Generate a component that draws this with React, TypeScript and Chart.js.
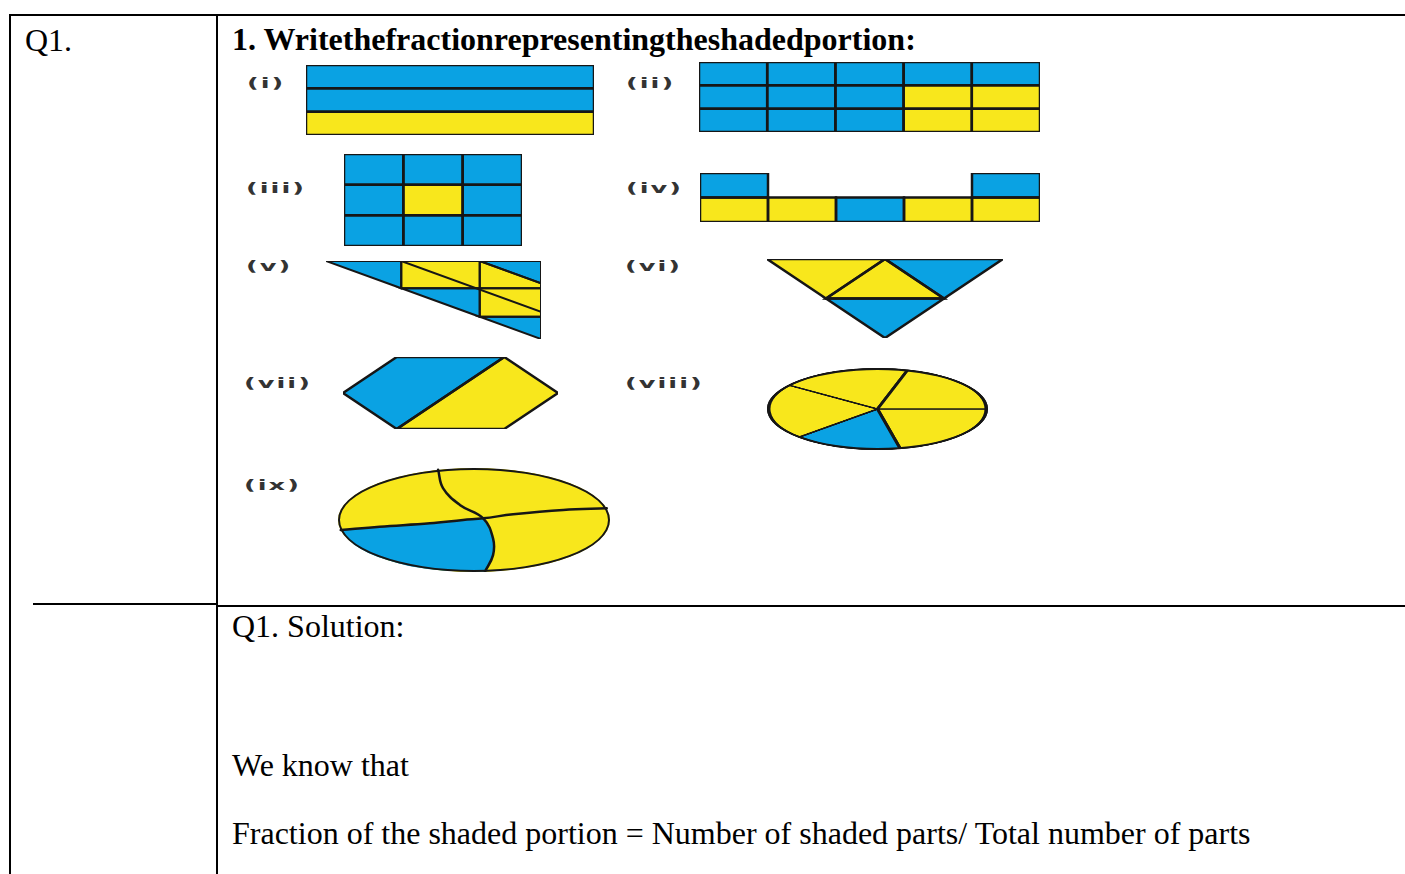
import React, { useEffect, useRef } from "react";
import { Chart, registerables } from "chart.js";

Chart.register(...registerables);

type Pt = [number, number];
type Piece = { fill: string; pts: Pt[] };
type Box = { left: number; top: number; width: number; height: number };

// ------------------------------------------------------------------
// DATA (shape content in each figure's own units; "B" = blue, "Y" = yellow)
// ------------------------------------------------------------------
const titleText = "1. Writethefractionrepresentingtheshadedportion:";
const questionLabel = "Q1.";
const solutionLines = [
  "Q1. Solution:",
  "We know that",
  "Fraction of the shaded portion = Number of shaded parts/ Total number of parts",
];
const figLabels = ["(i)", "(ii)", "(iii)", "(iv)", "(v)", "(vi)", "(vii)", "(viii)", "(ix)"];

// (i) 1 column x 3 rows
const fig1Grid: (string | null)[][] = [["B"], ["B"], ["Y"]];
// (ii) 5 columns x 3 rows
const fig2Grid: (string | null)[][] = [
  ["B", "B", "B", "B", "B"],
  ["B", "B", "B", "Y", "Y"],
  ["B", "B", "B", "Y", "Y"],
];
// (iii) 3 x 3
const fig3Grid: (string | null)[][] = [
  ["B", "B", "B"],
  ["B", "Y", "B"],
  ["B", "B", "B"],
];
// (iv) 5 x 2 with gaps
const fig4Grid: (string | null)[][] = [
  ["B", null, null, null, "B"],
  ["Y", "Y", "B", "Y", "Y"],
];
// (v) right triangle, units 0..100
const fig5Pieces: Piece[] = [
  { fill: "B", pts: [[0, 0], [35, 0], [35, 35]] },
  { fill: "Y", pts: [[35, 0], [71.5, 0], [71.5, 35], [35, 35]] },
  { fill: "B", pts: [[71.5, 0], [100, 0], [100, 28.5]] },
  { fill: "Y", pts: [[71.5, 0], [100, 28.5], [100, 35], [71.5, 35]] },
  { fill: "B", pts: [[35, 35], [71.5, 35], [71.5, 71.5]] },
  { fill: "Y", pts: [[71.5, 35], [100, 35], [100, 71.5], [71.5, 71.5]] },
  { fill: "B", pts: [[71.5, 71.5], [100, 71.5], [100, 100]] },
];
const fig5Lines: Pt[][] = [[[35, 0], [100, 65]]];
// (vi) inverted triangle, units 0..4 x 0..2
const fig6Pieces: Piece[] = [
  { fill: "Y", pts: [[0, 0], [2, 0], [1, 1]] },
  { fill: "Y", pts: [[2, 0], [3, 1], [1, 1]] },
  { fill: "B", pts: [[2, 0], [4, 0], [3, 1]] },
  { fill: "B", pts: [[1, 1], [3, 1], [2, 2]] },
];
// (vii) hexagon, units 0..4 x 0..2
const fig7Pieces: Piece[] = [
  { fill: "B", pts: [[0, 1], [1, 0], [3, 0], [1, 2]] },
  { fill: "Y", pts: [[3, 0], [4, 1], [3, 2], [1, 2]] },
];
// (viii) ellipse of 5 sectors (degrees, clockwise from 3 o'clock)
const fig8Sectors = [78, 58, 80, 70, 74];
const fig8Fills = ["Y", "B", "Y", "Y", "Y"];
// (ix) ellipse with two S-curves, units 0..100
const fig9Base = [1];
const fig9BaseFills = ["Y"];
const fig9CurveV: Pt[] = [[36.8, 1.7], [38.6, 19.3], [44.8, 35.5], [53.4, 48.4], [57, 67.7], [57, 83.8], [54, 99.8]];
const fig9CurveH: Pt[] = [[1, 59.7], [15.3, 56.5], [33.8, 53.2], [46, 50], [53.4, 48.4], [64.4, 44.5], [82.8, 40.3], [98.8, 38.7]];
const fig9Blue: Pt[] = [
  [1, 59.7], [1, 59.7], [15.3, 56.5], [33.8, 53.2], [46, 50], [53.4, 48.4], [53.4, 48.4],
  [57, 67.7], [57, 83.8], [54, 99.8], [54, 99.8], [32.9, 97.0], [17.9, 88.3], [6.7, 75.0], [1, 59.7], [1, 59.7],
];

// ------------------------------------------------------------------
// LAYOUT / STYLE
// ------------------------------------------------------------------
const COLORS: Record<string, string> = { B: "#0aa2e3", Y: "#f8e71c" };
const EDGE = "#161616";
const SERIF = '"Liberation Serif", "Times New Roman", serif';

const boxes: Record<string, Box> = {
  f1: { left: 306, top: 65, width: 288, height: 70 },
  f2: { left: 699, top: 62, width: 341, height: 70 },
  f3: { left: 344, top: 154, width: 178, height: 92 },
  f4: { left: 700, top: 173, width: 340, height: 48.5 },
  f5: { left: 326, top: 261, width: 215, height: 78 },
  f6: { left: 767, top: 259, width: 236, height: 79 },
  f7: { left: 343, top: 357, width: 215, height: 72 },
  f8: { left: 767, top: 368, width: 221, height: 82 },
  f9: { left: 338, top: 468, width: 272, height: 104 },
};
const labelPos: [number, number][] = [
  [247, 83], [626, 83], [246, 188], [626, 188], [246, 266], [625, 266], [244, 383], [625, 383], [244, 485],
];

function gridToPieces(grid: (string | null)[][]): Piece[] {
  const out: Piece[] = [];
  grid.forEach((row, r) =>
    row.forEach((cell, c) => {
      if (cell) out.push({ fill: cell, pts: [[c, r], [c + 1, r], [c + 1, r + 1], [c, r + 1]] });
    })
  );
  return out;
}

type ShapeProps = {
  box: Box;
  xMax: number;
  yMax: number;
  pieces?: Piece[];
  edgeless?: Piece[];
  lines?: Pt[][];
  tension?: number;
  edgeWidth?: number;
  z?: number;
};

function ShapeChart({ box, xMax, yMax, pieces = [], edgeless = [], lines = [], tension = 0, edgeWidth = 2.5, z = 1 }: ShapeProps) {
  const ref = useRef<HTMLCanvasElement>(null);
  const pad = 5;
  useEffect(() => {
    const datasets: any[] = [];
    lines.forEach((l) =>
      datasets.push({
        data: l.map(([x, y]) => ({ x, y })),
        showLine: true,
        fill: false,
        borderColor: EDGE,
        borderWidth: edgeWidth,
        pointRadius: 0,
        tension,
        borderCapStyle: "round",
        order: 0,
      })
    );
    pieces.forEach((p) =>
      datasets.push({
        data: [...p.pts, p.pts[0], p.pts[1]].map(([x, y]) => ({ x, y })),
        showLine: true,
        fill: "shape",
        backgroundColor: COLORS[p.fill],
        borderColor: EDGE,
        borderWidth: edgeWidth,
        pointRadius: 0,
        tension: 0,
        borderJoinStyle: "miter",
        order: 1,
      })
    );
    edgeless.forEach((p) =>
      datasets.push({
        data: p.pts.map(([x, y]) => ({ x, y })),
        showLine: true,
        fill: "shape",
        backgroundColor: COLORS[p.fill],
        borderColor: COLORS[p.fill],
        borderWidth: 0,
        pointRadius: 0,
        tension: 0.4,
        order: 2,
      })
    );
    const chart = new Chart(ref.current as HTMLCanvasElement, {
      type: "scatter",
      data: { datasets },
      options: {
        responsive: false,
        animation: false,
        events: [],
        layout: { padding: pad },
        plugins: {
          legend: { display: false },
          tooltip: { enabled: false },
          filler: { drawTime: "beforeDatasetsDraw" } as any,
        },
        scales: {
          x: { type: "linear", display: false, min: 0, max: xMax },
          y: { type: "linear", display: false, min: 0, max: yMax, reverse: true },
        },
      },
    } as any);
    return () => chart.destroy();
  }, []);
  return (
    <canvas
      ref={ref}
      width={Math.round(box.width + 2 * pad)}
      height={Math.round(box.height + 2 * pad)}
      style={{ position: "absolute", left: box.left - pad, top: box.top - pad, zIndex: z }}
    />
  );
}

function EllipsePie({ box, values, fills, borderWidth, z = 1 }: { box: Box; values: number[]; fills: string[]; borderWidth: number; z?: number }) {
  const ref = useRef<HTMLCanvasElement>(null);
  useEffect(() => {
    const chart = new Chart(ref.current as HTMLCanvasElement, {
      type: "pie",
      data: {
        labels: values.map((_, i) => String(i + 1)),
        datasets: [
          {
            data: values,
            backgroundColor: fills.map((f) => COLORS[f]),
            borderColor: EDGE,
            borderWidth,
          },
        ],
      },
      options: {
        responsive: false,
        animation: false,
        events: [],
        rotation: 90,
        layout: { padding: 0 },
        plugins: { legend: { display: false }, tooltip: { enabled: false } },
      },
    } as any);
    return () => chart.destroy();
  }, []);
  const k = box.height / box.width;
  return (
    <canvas
      ref={ref}
      width={box.width}
      height={box.width}
      style={{ position: "absolute", left: box.left, top: box.top, transform: `scaleY(${k})`, transformOrigin: "0 0", zIndex: z }}
    />
  );
}

function Outline({ box, z = 5 }: { box: Box; z?: number }) {
  return (
    <div
      style={{
        position: "absolute",
        left: box.left,
        top: box.top,
        width: box.width,
        height: box.height,
        border: `2.5px solid ${EDGE}`,
        borderRadius: "50%",
        boxSizing: "border-box",
        zIndex: z,
      }}
    />
  );
}

const rule = (left: number, top: number, width: number, height: number) => (
  <div style={{ position: "absolute", left, top, width, height, background: "#000" }} />
);

const textStyle = (left: number, top: number, bold = false): React.CSSProperties => ({
  position: "absolute",
  left,
  top,
  fontFamily: SERIF,
  fontSize: 32,
  lineHeight: "32px",
  fontWeight: bold ? 700 : 400,
  whiteSpace: "nowrap",
  color: "#000",
});

export default function App() {
  const solutionTops = [610, 749, 817];
  return (
    <div style={{ position: "absolute", left: 0, top: 0, width: 1405, height: 874, overflow: "hidden", background: "#fff" }}>
      {rule(9, 14, 1396, 2)}
      {rule(9, 14, 2, 860)}
      {rule(216, 14, 2, 860)}
      {rule(216, 605, 1189, 2)}
      {rule(33, 603, 184, 2)}

      <div style={textStyle(25, 24)}>{questionLabel}</div>
      <div style={textStyle(232, 23, true)}>{titleText}</div>
      {solutionLines.map((t, i) => (
        <div key={i} style={textStyle(232, solutionTops[i])}>
          {t}
        </div>
      ))}

      {figLabels.map((t, i) => (
        <div
          key={t}
          style={{
            position: "absolute",
            left: labelPos[i][0],
            top: labelPos[i][1] - 11,
            fontFamily: '"DejaVu Sans", sans-serif',
            fontWeight: 700,
            fontSize: 19,
            lineHeight: "22px",
            letterSpacing: 1.5,
            color: "#333",
            transform: "scale(1.35, 0.75)",
            transformOrigin: "0 50%",
            whiteSpace: "nowrap",
          }}
        >
          {t}
        </div>
      ))}

      <ShapeChart box={boxes.f1} xMax={1} yMax={3} pieces={gridToPieces(fig1Grid)} />
      <ShapeChart box={boxes.f2} xMax={5} yMax={3} pieces={gridToPieces(fig2Grid)} />
      <ShapeChart box={boxes.f3} xMax={3} yMax={3} pieces={gridToPieces(fig3Grid)} />
      <ShapeChart box={boxes.f4} xMax={5} yMax={2} pieces={gridToPieces(fig4Grid)} />
      <ShapeChart box={boxes.f5} xMax={100} yMax={100} pieces={fig5Pieces} lines={fig5Lines} edgeWidth={2} />
      <ShapeChart box={boxes.f6} xMax={4} yMax={2} pieces={fig6Pieces} />
      <ShapeChart box={boxes.f7} xMax={4} yMax={2} pieces={fig7Pieces} />

      <EllipsePie box={boxes.f8} values={fig8Sectors} fills={fig8Fills} borderWidth={3.5} />
      <Outline box={boxes.f8} />

      <EllipsePie box={boxes.f9} values={fig9Base} fills={fig9BaseFills} borderWidth={0} />
      <ShapeChart
        box={boxes.f9}
        xMax={100}
        yMax={100}
        edgeless={[{ fill: "B", pts: fig9Blue }]}
        lines={[fig9CurveV, fig9CurveH]}
        tension={0.4}
        z={2}
      />
      <Outline box={boxes.f9} />
    </div>
  );
}
